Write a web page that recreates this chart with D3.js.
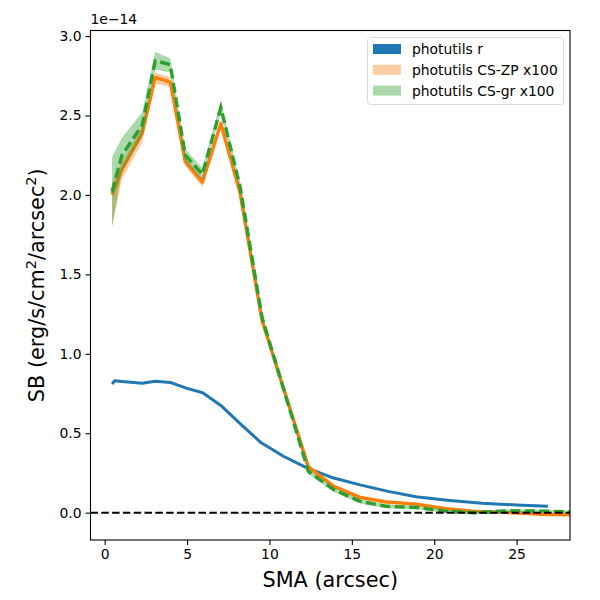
<!DOCTYPE html>
<meta charset="utf-8">
<head>
  <title>SB profile</title>
  <script src="https://cdn.jsdelivr.net/npm/d3@7"></script>
  <style>
    body { margin: 0; background: #fff; }
    text { font-family: "DejaVu Sans", sans-serif; fill: #000; }
  </style>
</head>
<body>
<div id="chart"></div>
<script>
// photutils r profile (units of 1e-14)
var smaR = [0.45, 0.6, 1.05, 2.28, 3.07, 3.98, 4.95, 5.95, 7.05, 8.3, 9.5, 10.85, 12.3, 13.9, 15.5, 17.2, 18.9, 20.8, 22.9, 25.0, 26.9];
var sbR  = [0.81, 0.83, 0.826, 0.815, 0.827, 0.82, 0.784, 0.755, 0.675, 0.553, 0.44, 0.355, 0.28, 0.218, 0.175, 0.134, 0.10, 0.078, 0.06, 0.048, 0.04];

// CS profiles x100
var smaCS = [0.45, 1.05, 2.28, 3.07, 3.98, 4.89, 5.93, 7.05, 8.22, 9.55, 12.36, 13.9, 15.5, 17.1, 18.9, 20.7, 22.5, 24.5, 26.5, 28.6];
var sbZP  = [2.0, 2.16, 2.39, 2.74, 2.71, 2.21, 2.08, 2.45, 2.01, 1.21, 0.29, 0.166, 0.096, 0.067, 0.054, 0.025, 0.008, 0.0, -0.01, -0.015];
var zpLo  = [1.80, 2.10, 2.33, 2.70, 2.68, 2.18, 2.05, 2.43, 1.99, 1.19, 0.28, 0.155, 0.085, 0.058, 0.046, 0.018, 0.0, -0.008, -0.018, -0.022];
var zpHi  = [2.08, 2.21, 2.43, 2.77, 2.74, 2.24, 2.11, 2.47, 2.03, 1.23, 0.30, 0.177, 0.107, 0.076, 0.062, 0.032, 0.016, 0.008, -0.002, -0.008];
var sbGR  = [2.02, 2.25, 2.44, 2.845, 2.82, 2.25, 2.13, 2.55, 2.05, 1.23, 0.26, 0.145, 0.071, 0.04, 0.033, 0.01, 0.0, 0.012, 0.01, 0.005];
var grLo  = [1.80, 2.15, 2.37, 2.79, 2.77, 2.21, 2.09, 2.52, 2.02, 1.21, 0.245, 0.13, 0.058, 0.028, 0.022, 0.0, -0.01, 0.003, 0.002, -0.003];
var grHi  = [2.24, 2.36, 2.52, 2.90, 2.86, 2.29, 2.17, 2.59, 2.08, 1.25, 0.275, 0.16, 0.085, 0.052, 0.045, 0.02, 0.01, 0.022, 0.018, 0.013];

var xTicks = [0, 5, 10, 15, 20, 25];
var yTicks = [0, 0.5, 1.0, 1.5, 2.0, 2.5, 3.0];
var legendLabels = ["photutils r", "photutils CS-ZP x100", "photutils CS-gr x100"];

var blue = "#1f77b4", orange = "#ff7f0e", green = "#2ca02c";

var W = 600, H = 600;
var box = {left: 90.5, right: 570, top: 30.5, bottom: 540};

var svg = d3.select("#chart").append("svg")
    .attr("width", W).attr("height", H);

var x = d3.scaleLinear().domain([-0.86, 28.24]).range([box.left, box.right]);
var y = d3.scaleLinear().domain([-0.172, 3.035]).range([box.bottom, box.top]);

svg.append("clipPath").attr("id", "clip")
  .append("rect")
    .attr("x", box.left).attr("y", box.top)
    .attr("width", box.right - box.left).attr("height", box.bottom - box.top);

var plot = svg.append("g").attr("clip-path", "url(#clip)");

var line = d3.line().x(function(d){ return x(d[0]); }).y(function(d){ return y(d[1]); });
var area = d3.area()
    .x(function(d){ return x(d[0]); })
    .y0(function(d){ return y(d[1]); })
    .y1(function(d){ return y(d[2]); });

// blue profile
plot.append("path")
    .datum(smaR.map(function(s, i){ return [s, sbR[i]]; }))
    .attr("d", line)
    .attr("fill", "none").attr("stroke", blue).attr("stroke-width", 3)
    .attr("stroke-linejoin", "round");

// orange band + line
plot.append("path")
    .datum(smaCS.map(function(s, i){ return [s, zpLo[i], zpHi[i]]; }))
    .attr("d", area)
    .attr("fill", orange).attr("fill-opacity", 0.4);
plot.append("path")
    .datum(smaCS.map(function(s, i){ return [s, sbZP[i]]; }))
    .attr("d", line)
    .attr("fill", "none").attr("stroke", orange).attr("stroke-width", 3.4)
    .attr("stroke-linejoin", "round");

// green band + dashed line
plot.append("path")
    .datum(smaCS.map(function(s, i){ return [s, grLo[i], grHi[i]]; }))
    .attr("d", area)
    .attr("fill", green).attr("fill-opacity", 0.4);
plot.append("path")
    .datum(smaCS.map(function(s, i){ return [s, sbGR[i]]; }))
    .attr("d", line)
    .attr("fill", "none").attr("stroke", green).attr("stroke-width", 3.4)
    .attr("stroke-dasharray", "10,4.5");

// zero line
plot.append("line")
    .attr("x1", box.left).attr("x2", box.right)
    .attr("y1", y(0)).attr("y2", y(0))
    .attr("stroke", "#000").attr("stroke-width", 2)
    .attr("stroke-dasharray", "7.5,3.3");

// axes
var xAxis = d3.axisBottom(x).tickValues(xTicks).tickSize(5).tickPadding(4).tickFormat(d3.format("d"));
var yAxis = d3.axisLeft(y).tickValues(yTicks).tickSize(5).tickPadding(4).tickFormat(d3.format(".1f"));

var gx = svg.append("g").attr("transform", "translate(0," + box.bottom + ")").call(xAxis);
var gy = svg.append("g").attr("transform", "translate(" + box.left + ",0)").call(yAxis);
[gx, gy].forEach(function(g){
  g.select(".domain").remove();
  g.selectAll("line").attr("stroke", "#000").attr("stroke-width", 1.1);
  g.selectAll("text").attr("font-size", 13.9).attr("font-family", "DejaVu Sans");
});

svg.append("rect")
    .attr("x", box.left).attr("y", box.top)
    .attr("width", box.right - box.left).attr("height", box.bottom - box.top)
    .attr("fill", "none").attr("stroke", "#000").attr("stroke-width", 1.1);

// offset text
svg.append("text").attr("x", box.left).attr("y", 24)
    .attr("font-size", 13.9).text("1e\u221214");

// axis labels
svg.append("text").attr("x", (box.left + box.right) / 2).attr("y", 587)
    .attr("text-anchor", "middle").attr("font-size", 20.8).text("SMA (arcsec)");

var yl = svg.append("text")
    .attr("transform", "translate(44," + (box.top + box.bottom) / 2 + ") rotate(-90)")
    .attr("text-anchor", "middle").attr("font-size", 20.8);
yl.append("tspan").text("SB (erg/s/cm");
yl.append("tspan").attr("font-size", 14.5).attr("dy", -8).text("2");
yl.append("tspan").attr("dy", 8).text("/arcsec");
yl.append("tspan").attr("font-size", 14.5).attr("dy", -8).text("2");
yl.append("tspan").attr("dy", 8).text(")");

// legend
var leg = svg.append("g");
leg.append("rect")
    .attr("x", 367.5).attr("y", 37.5).attr("width", 196).attr("height", 67)
    .attr("rx", 3).attr("fill", "#fff").attr("fill-opacity", 0.8)
    .attr("stroke", "#d9d9d9").attr("stroke-width", 1);
var legColors = [blue, orange, green];
var legOp = [1, 0.4, 0.4];
legendLabels.forEach(function(lab, i){
  var cy = 49 + i * 20.8;
  leg.append("rect")
      .attr("x", 373).attr("y", cy - 5).attr("width", 28).attr("height", 10)
      .attr("fill", legColors[i]).attr("fill-opacity", legOp[i]);
  leg.append("text").attr("x", 412).attr("y", cy + 5)
      .attr("font-size", 13.9).text(lab);
});
</script>
</body>
</html>
